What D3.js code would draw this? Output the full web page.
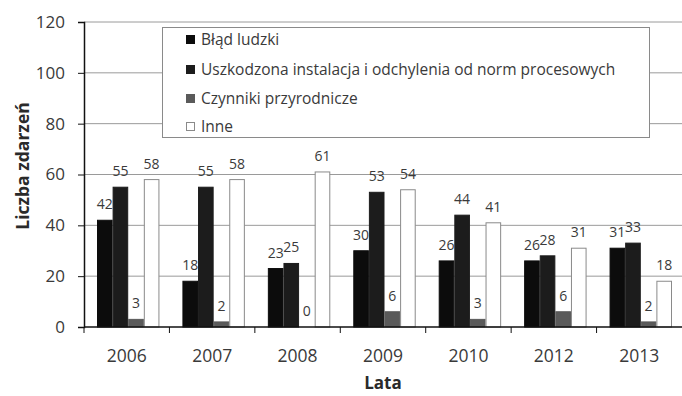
<!DOCTYPE html>
<html><head><meta charset="utf-8">
<script src="https://cdn.jsdelivr.net/npm/d3@7"></script>
<style>body{margin:0;background:#fff}svg{display:block}</style>
</head><body>
<svg id="chart" width="682" height="396"></svg>
<script>
const years = ["2006","2007","2008","2009","2010","2012","2013"];
const seriesNames = ["Błąd ludzki","Uszkodzona instalacja i odchylenia od norm procesowych","Czynniki przyrodnicze","Inne"];
const bladLudzki = [42,18,23,30,26,26,31];
const uszkodzona = [55,55,25,53,44,28,33];
const czynniki = [3,2,0,6,3,6,2];
const inne = [58,58,61,54,41,31,18];
const yTicks = [0,20,40,60,80,100,120];

const seriesValues = [bladLudzki, uszkodzona, czynniki, inne];
const fills = ["#0c0c0c","#1c1c1c","#5a5a5a","#ffffff"];
const strokes = ["#0c0c0c","#1c1c1c","#5a5a5a","#8a8a8a"];

const svg = d3.select("#chart");
const m = {left:84, right:0, top:22, bottom:69};
const W = 682, H = 396;
const font = "'Open Sans', 'Noto Sans', sans-serif";

const x = d3.scaleBand().domain(years).range([m.left, W - m.right]).paddingInner(0).paddingOuter(0);
const inner = d3.scaleBand().domain(d3.range(4)).range([13, x.bandwidth() - 10]).padding(0);
const y = d3.scaleLinear().domain([0,120]).range([H - m.bottom, m.top]);

// gridlines
svg.append("g").selectAll("line").data(yTicks.filter(d => d > 0)).join("line")
  .attr("x1", m.left).attr("x2", W - m.right)
  .attr("y1", d => y(d)).attr("y2", d => y(d))
  .attr("stroke", "#9a9a9a").attr("stroke-width", 1);

// bars
const groups = svg.append("g").selectAll("g").data(years).join("g")
  .attr("transform", d => `translate(${x(d)},0)`);
seriesValues.forEach((vals, s) => {
  groups.append("rect")
    .attr("x", (d, i) => inner(s) + 0.5)
    .attr("width", inner.bandwidth() - 1)
    .attr("y", (d, i) => y(vals[i]))
    .attr("height", (d, i) => y(0) - y(vals[i]))
    .attr("fill", fills[s]).attr("stroke", strokes[s]).attr("stroke-width", 1);
});
// value labels
seriesValues.forEach((vals, s) => {
  groups.append("text")
    .attr("x", () => inner(s) + inner.bandwidth() / 2)
    .attr("y", (d, i) => y(vals[i]) - 11)
    .attr("text-anchor", "middle")
    .attr("font-family", font).attr("font-size", 14).attr("fill", "#3a3a3a")
    .text((d, i) => vals[i]);
});

// y axis
const yAxis = svg.append("g").attr("transform", `translate(${m.left},0)`)
  .call(d3.axisLeft(y).tickValues(yTicks).tickSize(6).tickPadding(13));
yAxis.select(".domain").attr("stroke", "#111").attr("stroke-width", 1.5);
yAxis.selectAll(".tick line").attr("stroke", "#111");
yAxis.selectAll("text").attr("font-family", font).attr("font-size", 17).attr("fill", "#3a3a3a");

// x axis with ticks at category boundaries
const xAxisG = svg.append("g").attr("transform", `translate(0,${y(0)})`);
xAxisG.append("line").attr("x1", m.left).attr("x2", W - m.right)
  .attr("stroke", "#111").attr("stroke-width", 1.5);
xAxisG.selectAll("line.tk").data(years).join("line").attr("class","tk")
  .attr("x1", d => x(d)).attr("x2", d => x(d)).attr("y1", 0).attr("y2", 6)
  .attr("stroke", "#111");
xAxisG.selectAll("text").data(years).join("text")
  .attr("x", d => x(d) + x.bandwidth() / 2).attr("y", 35)
  .attr("text-anchor", "middle")
  .attr("font-family", font).attr("font-size", 17.5).attr("fill", "#3a3a3a")
  .text(d => d);

// axis titles
svg.append("text").attr("x", 383).attr("y", 389).attr("text-anchor", "middle")
  .attr("font-family", font).attr("font-size", 17).attr("font-weight", "bold").attr("fill", "#2a2a2a")
  .text("Lata");
svg.append("text").attr("transform", `translate(29,166) rotate(-90)`)
  .attr("text-anchor", "middle")
  .attr("font-family", font).attr("font-size", 17.5).attr("font-weight", "bold").attr("fill", "#2a2a2a")
  .text("Liczba zdarzeń");

// legend
const lg = svg.append("g");
lg.append("rect").attr("x", 162.5).attr("y", 27.5).attr("width", 487).attr("height", 110)
  .attr("fill", "#fff").attr("stroke", "#8a8a8a").attr("stroke-width", 1);
const legendY = [40, 70, 99, 127];
seriesNames.forEach((name, s) => {
  lg.append("rect").attr("x", 186.5).attr("y", legendY[s] - 4.5).attr("width", 8).attr("height", 8)
    .attr("fill", fills[s]).attr("stroke", strokes[s]);
  lg.append("text").attr("x", 201).attr("y", legendY[s] + 5)
    .attr("font-family", font).attr("font-size", 15.5).attr("fill", "#3a3a3a")
    .text(name);
});
</script>
</body></html>
